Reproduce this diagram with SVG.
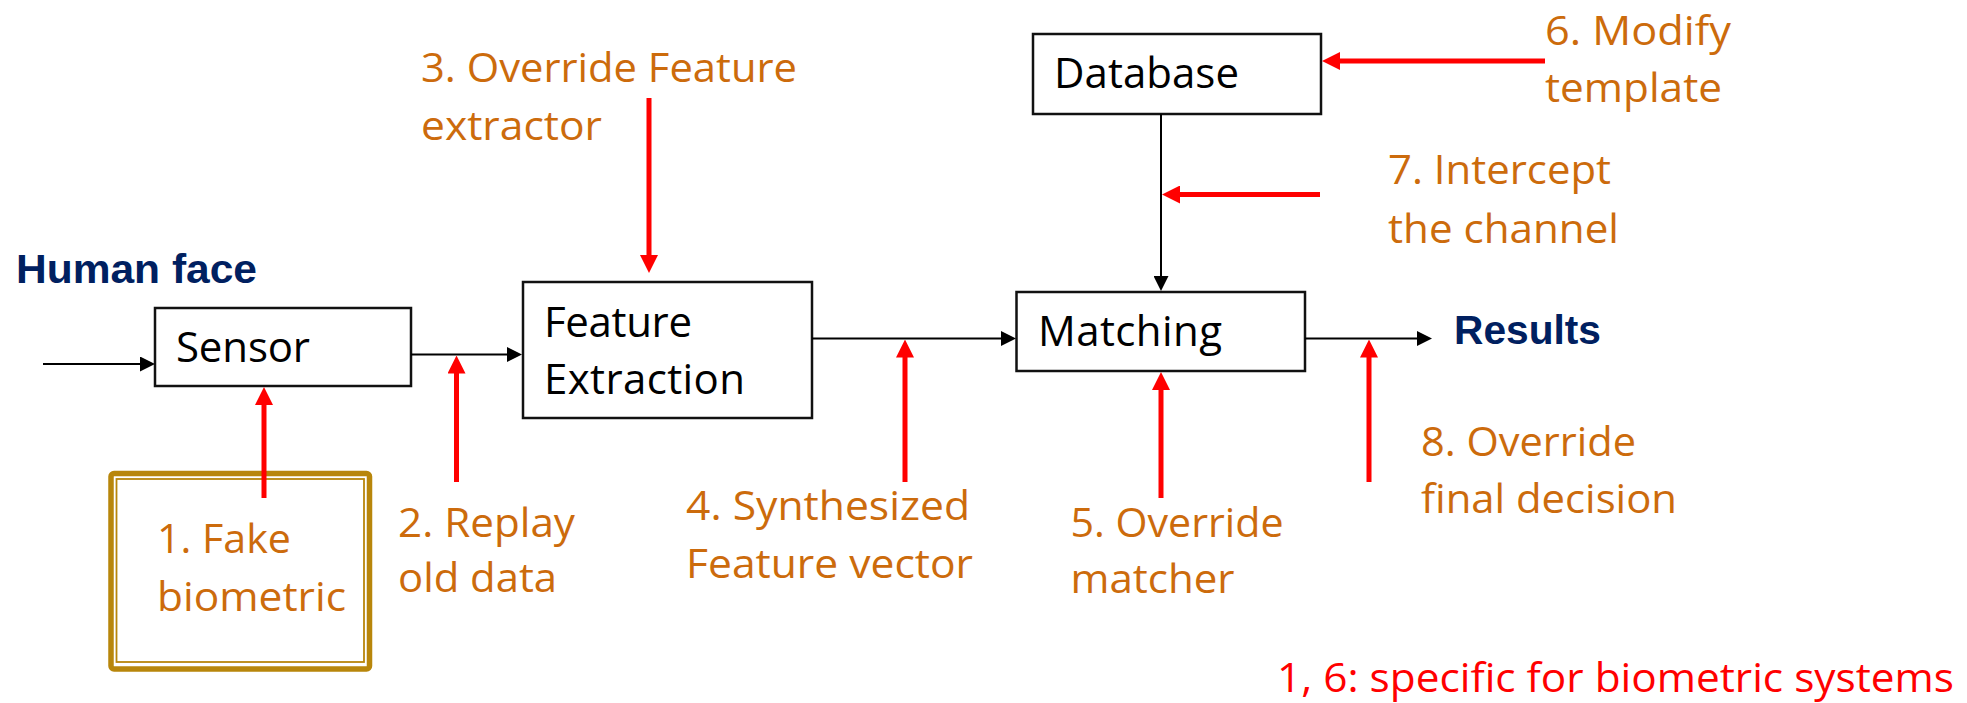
<svg xmlns="http://www.w3.org/2000/svg" width="1967" height="703" viewBox="0 0 1967 703">
<style>
.box{fill:#fff;stroke:#111;stroke-width:2.5}
.lbl{font-family:"Open Sans","Liberation Sans",sans-serif;font-size:42px;fill:#000}
.hd{font-family:"Liberation Sans",Arial,sans-serif;font-weight:bold;font-size:41px;fill:#002060}
.att{font-family:"Open Sans","Liberation Sans",sans-serif;font-size:41px;fill:#CC6B0C}
.note{font-family:"Open Sans","Liberation Sans",sans-serif;font-size:41px;fill:#FF0000}
.blk{stroke:#000;stroke-width:2;fill:none;marker-end:url(#ah)}
.red{stroke:#FF0000;stroke-width:5;fill:none;marker-end:url(#rh)}
</style>
<defs>
<marker id="ah" markerUnits="userSpaceOnUse" markerWidth="15" markerHeight="15" refX="7" refY="7.5" orient="auto"><path d="M0,0 L15,7.5 L0,15 z" fill="#000"/></marker>
<marker id="rh" markerUnits="userSpaceOnUse" markerWidth="18" markerHeight="18" refX="8" refY="9" orient="auto"><path d="M0,0 L18,9 L0,18 z" fill="#FF0000"/></marker>
</defs>
<rect width="1967" height="703" fill="#fff"/>

<text class="hd" x="16" y="283" textLength="241" lengthAdjust="spacingAndGlyphs">Human face</text>
<text class="hd" x="1454" y="344" textLength="147" lengthAdjust="spacingAndGlyphs">Results</text>

<g id="sensor">
<rect class="box" x="155" y="308" width="256" height="78"/>
<text class="lbl" x="176" y="362" textLength="134">Sensor</text>
</g>
<g id="feature-extraction">
<rect class="box" x="523" y="282" width="289" height="136"/>
<text class="lbl" x="544" y="337" textLength="148">Feature</text>
<text class="lbl" x="544" y="394" textLength="201">Extraction</text>
</g>
<g id="matching">
<rect class="box" x="1016.5" y="292" width="288.5" height="79"/>
<text class="lbl" x="1038" y="346" textLength="184">Matching</text>
</g>
<g id="database">
<rect class="box" x="1033" y="34" width="288" height="80"/>
<text class="lbl" x="1054" y="88" textLength="185">Database</text>
</g>
<g id="fake-biometric">
<rect x="111" y="473.5" width="258.5" height="195.5" rx="3" fill="none" stroke="#B8860B" stroke-width="5.5"/>
<rect x="116.5" y="479" width="247.5" height="183" fill="none" stroke="#B8860B" stroke-width="1.8"/>
<text class="att" x="157" y="553" textLength="134" lengthAdjust="spacingAndGlyphs">1. Fake</text>
<text class="att" x="157" y="611" textLength="189" lengthAdjust="spacingAndGlyphs">biometric</text>
</g>

<g id="connectors">
<line class="blk" x1="43" y1="364" x2="147" y2="364"/>
<line class="blk" x1="411" y1="354.5" x2="514" y2="354.5"/>
<line class="blk" x1="812" y1="338.5" x2="1008" y2="338.5"/>
<line class="blk" x1="1305" y1="338.5" x2="1424" y2="338.5"/>
<line class="blk" x1="1161" y1="114" x2="1161" y2="283"/>

<line class="red" x1="264" y1="498" x2="264" y2="397"/>
<line class="red" x1="456.5" y1="482" x2="456.5" y2="365.5"/>
<line class="red" x1="649" y1="98" x2="649" y2="263"/>
<line class="red" x1="905" y1="482" x2="905" y2="349.5"/>
<line class="red" x1="1161" y1="498" x2="1161" y2="382"/>
<line class="red" x1="1545" y1="61" x2="1332" y2="61"/>
<line class="red" x1="1320" y1="194.5" x2="1172" y2="194.5"/>
<line class="red" x1="1369" y1="482" x2="1369" y2="349.5"/>
</g>

<g id="labels">
<text class="att" x="398" y="537" textLength="177" lengthAdjust="spacingAndGlyphs">2. Replay</text>
<text class="att" x="398" y="592" textLength="159" lengthAdjust="spacingAndGlyphs">old data</text>
<text class="att" x="421" y="82" textLength="376" lengthAdjust="spacingAndGlyphs">3. Override Feature</text>
<text class="att" x="421" y="140" textLength="181" lengthAdjust="spacingAndGlyphs">extractor</text>
<text class="att" x="686" y="520" textLength="284" lengthAdjust="spacingAndGlyphs">4. Synthesized</text>
<text class="att" x="686" y="578" textLength="287" lengthAdjust="spacingAndGlyphs">Feature vector</text>
<text class="att" x="1070.5" y="537" textLength="213" lengthAdjust="spacingAndGlyphs">5. Override</text>
<text class="att" x="1070.5" y="593" textLength="164" lengthAdjust="spacingAndGlyphs">matcher</text>
<text class="att" x="1545" y="45" textLength="186" lengthAdjust="spacingAndGlyphs">6. Modify</text>
<text class="att" x="1545" y="102" textLength="177" lengthAdjust="spacingAndGlyphs">template</text>
<text class="att" x="1388" y="184" textLength="223" lengthAdjust="spacingAndGlyphs">7. Intercept</text>
<text class="att" x="1388" y="243" textLength="231" lengthAdjust="spacingAndGlyphs">the channel</text>
<text class="att" x="1421" y="456" textLength="215" lengthAdjust="spacingAndGlyphs">8. Override</text>
<text class="att" x="1421" y="513" textLength="256" lengthAdjust="spacingAndGlyphs">final decision</text>
<text class="note" x="1277" y="692" textLength="677" lengthAdjust="spacingAndGlyphs">1, 6: specific for biometric systems</text>
</g>
</svg>
